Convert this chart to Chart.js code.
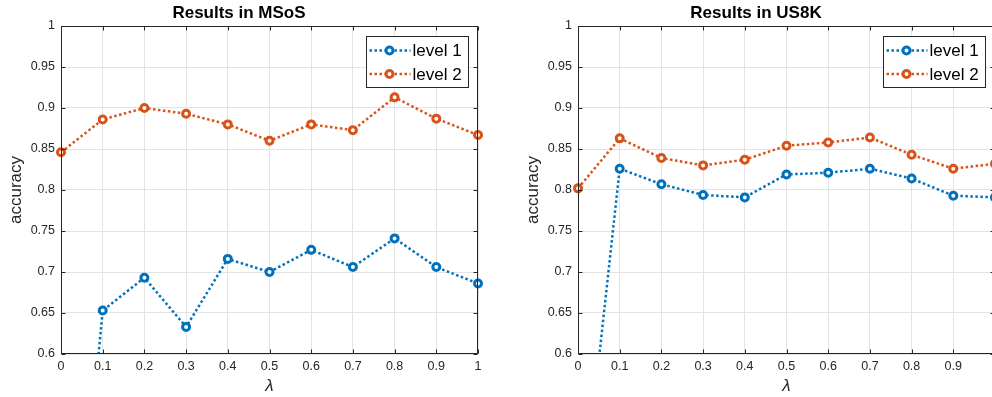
<!DOCTYPE html>
<html>
<head>
<meta charset="utf-8">
<script src="https://cdn.jsdelivr.net/npm/chart.js@4.4.1/dist/chart.umd.min.js"></script>
<style>
  html, body { margin: 0; padding: 0; background: #fff; overflow: hidden; width: 992px; height: 397px; }
  .panel { position: absolute; top: 0; width: 496px; height: 397px; }
  #left { left: 0; }
  #right { left: 517px; }
</style>
</head>
<body>
<div class="panel" id="left"><canvas id="chartMSoS" width="496" height="397"></canvas></div>
<div class="panel" id="right"><canvas id="chartUS8K" width="496" height="397"></canvas></div>
<script>
// lambda values (x) and tick positions
const lambdas = [0, 0.1, 0.2, 0.3, 0.4, 0.5, 0.6, 0.7, 0.8, 0.9, 1];
const xTicks = [0, 0.1, 0.2, 0.3, 0.4, 0.5, 0.6, 0.7, 0.8, 0.9, 1];
const yTicks = [0.6, 0.65, 0.7, 0.75, 0.8, 0.85, 0.9, 0.95, 1];

// accuracy
const msosLevel1 = [0.12, 0.653, 0.693, 0.633, 0.716, 0.700, 0.727, 0.706, 0.741, 0.706, 0.686];
const msosLevel2 = [0.846, 0.886, 0.900, 0.893, 0.880, 0.860, 0.880, 0.873, 0.913, 0.887, 0.867];
const us8kLevel1 = [0.36, 0.826, 0.807, 0.794, 0.791, 0.819, 0.821, 0.826, 0.814, 0.793, 0.791];
const us8kLevel2 = [0.802, 0.863, 0.839, 0.830, 0.837, 0.854, 0.858, 0.864, 0.843, 0.826, 0.832];

const BLUE = '#0072BD';
const ORANGE = '#D95319';
const AXIS = '#262626';
const FONT = "'Liberation Sans', Arial, sans-serif";
const DASH = [2.5, 2.5];

// box around the axes + inward ticks on all four sides
const matlabAxes = {
    id: 'matlabAxes',
    afterDatasetsDraw(chart) {
        const { ctx, chartArea: a, scales: { x, y } } = chart;
        const L = Math.round(a.left) + 0.5, R = Math.round(a.right) - 0.5;
        const T = Math.round(a.top) + 0.5, B = Math.round(a.bottom) - 0.5;
        ctx.save();
        ctx.strokeStyle = AXIS;
        ctx.lineWidth = 1;
        ctx.setLineDash([]);
        ctx.strokeRect(L, T, R - L, B - T);
        ctx.beginPath();
        xTicks.forEach(v => {
            const px = Math.round(x.getPixelForValue(v)) + 0.5;
            ctx.moveTo(px, B); ctx.lineTo(px, B - 4);
            ctx.moveTo(px, T); ctx.lineTo(px, T + 4);
        });
        yTicks.forEach(v => {
            const py = Math.round(y.getPixelForValue(v)) + 0.5;
            ctx.moveTo(L, py); ctx.lineTo(L + 4, py);
            ctx.moveTo(R, py); ctx.lineTo(R - 4, py);
        });
        ctx.stroke();
        ctx.restore();
    }
};

// MATLAB style legend box in the top right corner
const boxLegend = {
    id: 'boxLegend',
    afterDraw(chart) {
        const { ctx, chartArea: a } = chart;
        const w = 102, h = 51;
        const left = Math.round(a.right - 10 - w) + 0.5;
        const top = Math.round(a.top + 10) + 0.5;
        ctx.save();
        ctx.fillStyle = '#fff';
        ctx.fillRect(left, top, w, h);
        ctx.strokeStyle = AXIS;
        ctx.lineWidth = 1;
        ctx.strokeRect(left, top, w, h);
        ctx.font = '17px ' + FONT;
        ctx.textBaseline = 'middle';
        chart.data.datasets.forEach((ds, i) => {
            const cy = top + 14 + i * 23.5;
            ctx.strokeStyle = ds.borderColor;
            ctx.lineWidth = 2.5;
            ctx.setLineDash(DASH);
            ctx.beginPath();
            ctx.moveTo(left + 3, cy);
            ctx.lineTo(left + 44, cy);
            ctx.stroke();
            ctx.setLineDash([]);
            ctx.lineWidth = 3;
            ctx.fillStyle = '#fff';
            ctx.beginPath();
            ctx.arc(left + 23, cy, 3.5, 0, Math.PI * 2);
            ctx.fill();
            ctx.stroke();
            ctx.fillStyle = '#000';
            ctx.fillText(ds.label, left + 46, cy + 1);
        });
        ctx.restore();
    }
};

function makeSeries(label, values, color) {
    return {
        label: label,
        data: lambdas.map((l, i) => ({ x: l, y: values[i] })),
        borderColor: color,
        borderWidth: 2.5,
        borderDash: DASH,
        pointRadius: 3.5,
        pointBorderWidth: 3,
        pointBackgroundColor: '#fff',
        pointBorderColor: color,
        tension: 0,
        clip: { left: 8, right: 8, top: 8, bottom: 0 }
    };
}

function makeChart(id, title, level1, level2) {
    const ctx = document.getElementById(id).getContext('2d');
    return new Chart(ctx, {
        type: 'line',
        data: {
            datasets: [
                makeSeries('level 1', level1, BLUE),
                makeSeries('level 2', level2, ORANGE)
            ]
        },
        options: {
            responsive: false,
            devicePixelRatio: 1,
            animation: false,
            layout: { padding: { left: 0, right: 18, top: 0, bottom: 0 } },
            plugins: {
                legend: { display: false },
                tooltip: { enabled: false },
                title: {
                    display: true,
                    text: title,
                    color: '#000',
                    font: { family: FONT, size: 17, weight: 'bold', lineHeight: 1.2 },
                    padding: { top: 3, bottom: 2.6 }
                }
            },
            scales: {
                x: {
                    type: 'linear',
                    min: 0,
                    max: 1,
                    afterBuildTicks: s => { s.ticks = xTicks.map(v => ({ value: v })); },
                    afterFit: s => { s.height = 43; },
                    grid: { color: '#e3e3e3', drawTicks: false },
                    border: { display: false },
                    ticks: {
                        color: AXIS,
                        padding: 5,
                        maxRotation: 0,
                        font: { family: FONT, size: 12.5 },
                        callback: v => String(v)
                    },
                    title: {
                        display: true,
                        text: 'λ',
                        color: AXIS,
                        font: { family: FONT, size: 17, style: 'italic', lineHeight: 1.2 },
                        padding: { top: 0, bottom: 1 }
                    }
                },
                y: {
                    min: 0.6,
                    max: 1,
                    afterBuildTicks: s => { s.ticks = yTicks.map(v => ({ value: v })); },
                    afterFit: s => { s.width = 61; },
                    grid: { color: '#e3e3e3', drawTicks: false },
                    border: { display: false },
                    ticks: {
                        color: AXIS,
                        padding: 6,
                        font: { family: FONT, size: 12.5 },
                        callback: v => String(v)
                    },
                    title: {
                        display: true,
                        text: 'accuracy',
                        color: AXIS,
                        font: { family: FONT, size: 17, lineHeight: 1.2 },
                        padding: { top: 6, bottom: 0 }
                    }
                }
            }
        },
        plugins: [matlabAxes, boxLegend]
    });
}

makeChart('chartMSoS', 'Results in MSoS', msosLevel1, msosLevel2);
makeChart('chartUS8K', 'Results in US8K', us8kLevel1, us8kLevel2);
</script>
</body>
</html>
